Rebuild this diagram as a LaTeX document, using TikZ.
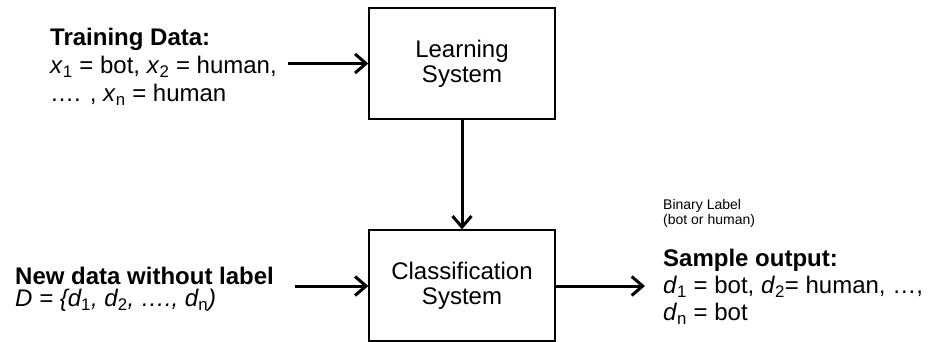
\documentclass[tikz,border=0pt]{standalone}
\usepackage{fontspec}
\setmainfont{Liberation Sans}
\usetikzlibrary{arrows.meta}
\newcommand\subs[1]{\textsubscript{\upshape #1}}
\begin{document}
\begin{tikzpicture}[x=1pt,y=-1pt,
  sysbox/.style={draw, line width=1.3pt, minimum width=186pt, minimum height=111pt,
    align=center, inner sep=0pt, font=\fontsize{24}{25}\selectfont},
  flow/.style={line width=3pt, -{Straight Barb[length=11pt,width=19pt]}},
  txt/.style={anchor=north west, align=left, inner sep=0pt},
  note/.style={anchor=north west, align=left, inner sep=0pt, font=\fontsize{14}{15}\selectfont}]
\useasboundingbox (0,0) rectangle (928,342);

% the two processing stages
\node[sysbox] (learn) at (462,63.5) {Learning\\System};
\node[sysbox] (classify) at (462,285.5) {Classification\\System};

% inputs and outputs
\node[txt, font=\fontsize{24}{28}\selectfont] (train) at (50,28) {\textbf{Training Data:}\\
  \textit{x}\subs{1} = bot, \textit{x}\subs{2} = human,\\
  …. , \textit{x}\subs{n} = human};
\node[txt, font=\fontsize{24}{22}\selectfont] (newdata) at (15,267) {\textbf{New data without label}\\
  \textit{D = \{d\subs{1}, d\subs{2}, …., d\subs{n})}};
\node[note] (binary) at (663,199) {Binary Label\\(bot or human)};
\node[txt, font=\fontsize{24}{27}\selectfont] (sample) at (663,249) {\textbf{Sample output:}\\
  \textit{d}\subs{1} = bot, \textit{d}\subs{2}= human, …,\\
  \textit{d}\subs{n} = bot};

% arrow end points
\coordinate (trainout) at (288,63.5);
\coordinate (newout) at (295,286);
\coordinate (result) at (645,286);

\draw[flow] (trainout) -- (learn.west);
\draw[flow] (learn.south) -- (classify.north);
\draw[flow] (newout) -- (newout -| classify.west);
\draw[flow] (classify.east |- result) -- (result);
\end{tikzpicture}
\end{document}
